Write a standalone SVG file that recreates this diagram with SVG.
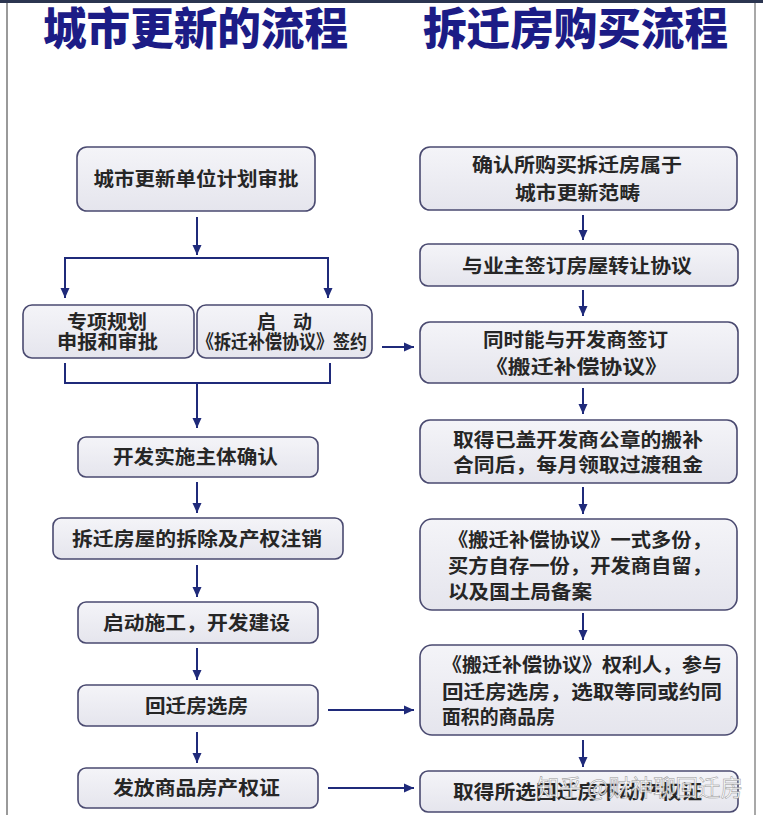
<svg xmlns="http://www.w3.org/2000/svg" width="763" height="815" viewBox="0 0 763 815">
<defs>
<linearGradient id="boxfill" x1="0" y1="0" x2="0" y2="1">
<stop offset="0" stop-color="#f4f4f8"/>
<stop offset="1" stop-color="#e5e5ed"/>
</linearGradient>
<marker id="ah" markerUnits="userSpaceOnUse" markerWidth="10" markerHeight="10" refX="10" refY="5" orient="auto">
<path d="M0,0.5 L10,5 L0,9.5 z" fill="#1f2a7a"/>
</marker>
</defs>
<style>
.box{fill:url(#boxfill);stroke:#4a4a70;stroke-width:1.6}
.t{font-family:"Noto Sans CJK SC","Noto Sans",sans-serif;font-weight:700;font-size:19px;fill:#262626}
.c{text-anchor:middle}
.title{font-family:"Noto Sans CJK SC",sans-serif;font-weight:900;font-size:44px;fill:#1c1c86;text-anchor:middle}
.ln{stroke:#1f2a7a;stroke-width:2;fill:none}
.wm{font-family:"Noto Sans CJK SC",sans-serif;font-weight:400;font-size:23px;fill:#ffffff;stroke:#8a8a8a;stroke-width:0.5;opacity:0.9}
</style>
<rect x="0" y="0" width="763" height="815" fill="#ffffff"/>
<rect x="0" y="0" width="763" height="3" fill="#2b3550"/>
<line x1="7" y1="3" x2="7" y2="815" stroke="#9a9a9a" stroke-width="2"/>
<line x1="755" y1="3" x2="755" y2="815" stroke="#a8a8a8" stroke-width="2"/>

<g id="titles">
<text class="title" x="195.5" y="45" textLength="305" lengthAdjust="spacingAndGlyphs">城市更新的流程</text>
<text class="title" x="575.5" y="45" textLength="305" lengthAdjust="spacingAndGlyphs">拆迁房购买流程</text>
</g>

<g id="connectors">
<line class="ln" x1="197" y1="217" x2="197" y2="255" marker-end="url(#ah)"/>
<line class="ln" x1="64" y1="258" x2="329" y2="258"/>
<line class="ln" x1="65" y1="258" x2="65" y2="298" marker-end="url(#ah)"/>
<line class="ln" x1="328" y1="258" x2="328" y2="298" marker-end="url(#ah)"/>
<polyline class="ln" points="65,363 65,383 330,383 330,363"/>
<line class="ln" x1="197" y1="383" x2="197" y2="428" marker-end="url(#ah)"/>
<line class="ln" x1="197" y1="482" x2="197" y2="513" marker-end="url(#ah)"/>
<line class="ln" x1="197" y1="565" x2="197" y2="597" marker-end="url(#ah)"/>
<line class="ln" x1="197" y1="648" x2="197" y2="680" marker-end="url(#ah)"/>
<line class="ln" x1="197" y1="732" x2="197" y2="763" marker-end="url(#ah)"/>
<line class="ln" x1="583" y1="215" x2="583" y2="240" marker-end="url(#ah)"/>
<line class="ln" x1="583" y1="290" x2="583" y2="316" marker-end="url(#ah)"/>
<line class="ln" x1="583" y1="388" x2="583" y2="414" marker-end="url(#ah)"/>
<line class="ln" x1="583" y1="487" x2="583" y2="514" marker-end="url(#ah)"/>
<line class="ln" x1="583" y1="613" x2="583" y2="640" marker-end="url(#ah)"/>
<line class="ln" x1="583" y1="740" x2="583" y2="767" marker-end="url(#ah)"/>
<line class="ln" x1="382" y1="347" x2="414" y2="347" marker-end="url(#ah)"/>
<line class="ln" x1="328" y1="710" x2="414" y2="710" marker-end="url(#ah)"/>
<line class="ln" x1="328" y1="788" x2="414" y2="788" marker-end="url(#ah)"/>
</g>

<g id="L1"><rect class="box" x="77" y="147" width="238" height="64" rx="10"/>
<text class="t c" x="196" y="186" textLength="205" lengthAdjust="spacingAndGlyphs">城市更新单位计划审批</text></g>
<g id="L2a"><rect class="box" x="23" y="305" width="171" height="53" rx="9"/>
<text class="t c" x="107" y="329" textLength="80" lengthAdjust="spacingAndGlyphs">专项规划</text>
<text class="t c" x="107.5" y="349" textLength="101" lengthAdjust="spacingAndGlyphs">申报和审批</text></g>
<g id="L2b"><rect class="box" x="197" y="305" width="175" height="53" rx="9"/>
<text class="t c" x="284.5" y="329" textLength="55" lengthAdjust="spacing">启 动</text>
<text class="t c" x="282" y="349" textLength="170" lengthAdjust="spacingAndGlyphs">《拆迁补偿协议》签约</text></g>
<g id="L3"><rect class="box" x="78" y="437" width="240" height="40" rx="8"/>
<text class="t c" x="195.5" y="464" textLength="165" lengthAdjust="spacingAndGlyphs">开发实施主体确认</text></g>
<g id="L4"><rect class="box" x="53" y="518" width="290" height="41" rx="8"/>
<text class="t c" x="197" y="546" textLength="250" lengthAdjust="spacingAndGlyphs">拆迁房屋的拆除及产权注销</text></g>
<g id="L5"><rect class="box" x="78" y="602" width="240" height="41" rx="8"/>
<text class="t c" x="196.5" y="630" textLength="187" lengthAdjust="spacingAndGlyphs">启动施工，开发建设</text></g>
<g id="L6"><rect class="box" x="78" y="685" width="240" height="41" rx="8"/>
<text class="t c" x="196.5" y="713" textLength="103" lengthAdjust="spacingAndGlyphs">回迁房选房</text></g>
<g id="L7"><rect class="box" x="78" y="768" width="240" height="40" rx="8"/>
<text class="t c" x="196.5" y="795" textLength="167" lengthAdjust="spacingAndGlyphs">发放商品房产权证</text></g>

<g id="R1"><rect class="box" x="420" y="147" width="317" height="63" rx="10"/>
<text class="t c" x="577" y="172" textLength="210" lengthAdjust="spacingAndGlyphs">确认所购买拆迁房属于</text>
<text class="t c" x="577.5" y="200" textLength="125" lengthAdjust="spacingAndGlyphs">城市更新范畴</text></g>
<g id="R2"><rect class="box" x="420" y="244" width="318" height="42" rx="8"/>
<text class="t c" x="577" y="273" textLength="230" lengthAdjust="spacingAndGlyphs">与业主签订房屋转让协议</text></g>
<g id="R3"><rect class="box" x="420" y="322" width="318" height="61" rx="10"/>
<text class="t c" x="575.5" y="347" textLength="185" lengthAdjust="spacingAndGlyphs">同时能与开发商签订</text>
<text class="t c" x="576.5" y="374" textLength="183" lengthAdjust="spacingAndGlyphs">《搬迁补偿协议》</text></g>
<g id="R4"><rect class="box" x="420" y="420" width="317" height="63" rx="10"/>
<text class="t c" x="578" y="447" textLength="250" lengthAdjust="spacingAndGlyphs">取得已盖开发商公章的搬补</text>
<text class="t c" x="578" y="472" textLength="250" lengthAdjust="spacingAndGlyphs">合同后，每月领取过渡租金</text></g>
<g id="R5"><rect class="box" x="420" y="519" width="317" height="91" rx="12"/>
<text class="t" x="448" y="547" textLength="264" lengthAdjust="spacingAndGlyphs">《搬迁补偿协议》一式多份，</text>
<text class="t" x="448" y="573" textLength="264" lengthAdjust="spacingAndGlyphs">买方自存一份，开发商自留，</text>
<text class="t" x="448" y="599" textLength="144" lengthAdjust="spacingAndGlyphs">以及国土局备案</text></g>
<g id="R6"><rect class="box" x="420" y="645" width="317" height="90" rx="12"/>
<text class="t" x="442" y="672" textLength="280" lengthAdjust="spacingAndGlyphs">《搬迁补偿协议》权利人，参与</text>
<text class="t" x="442" y="699" textLength="280" lengthAdjust="spacingAndGlyphs">回迁房选房，选取等同或约同</text>
<text class="t" x="442" y="724" textLength="113" lengthAdjust="spacingAndGlyphs">面积的商品房</text></g>
<g id="R7"><rect class="box" x="420" y="771" width="318" height="41" rx="8"/>
<text class="t c" x="577.5" y="799" textLength="249" lengthAdjust="spacingAndGlyphs">取得所选回迁房不动产权证</text></g>

<g id="watermark">
<text class="wm" x="537" y="796" textLength="206" lengthAdjust="spacingAndGlyphs">知乎 @财神聊回迁房</text>
</g>
</svg>
